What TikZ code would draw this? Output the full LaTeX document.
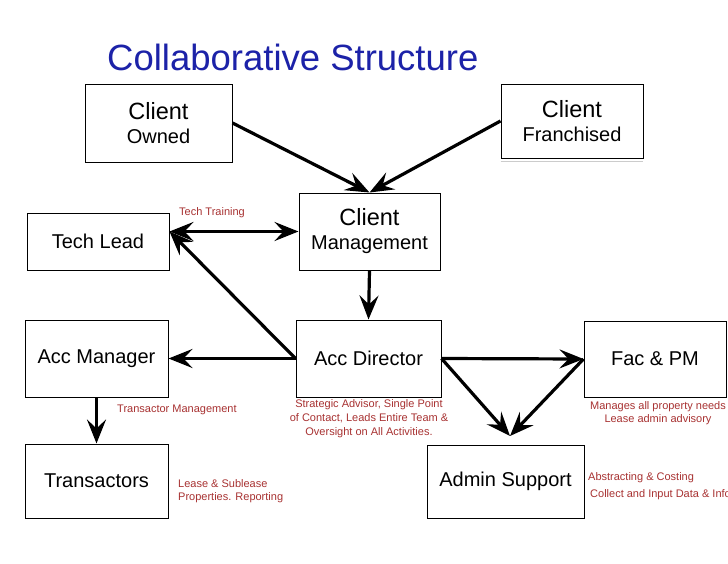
\documentclass[tikz,border=0pt]{standalone}
\usepackage{fontspec}
\setmainfont{Liberation Sans}
\usetikzlibrary{arrows.meta}
\definecolor{ttlblue}{HTML}{1C22A8}
\definecolor{notered}{HTML}{A83232}
\tikzset{
  box/.style={draw,line width=1pt,rectangle,align=center,inner sep=0pt,font=\fontsize{20}{24}\selectfont},
  >={Stealth[length=24pt,width=19pt,inset=9pt]},
  arr/.style={line width=3.2pt,->},
  arrb/.style={line width=3.2pt,<->},
  note/.style={text=notered,inner sep=0pt,font=\fontsize{11}{14}\selectfont}}
\begin{document}
\begin{tikzpicture}[x=1pt,y=-1pt]
\useasboundingbox (0,0) rectangle (728,563);
\fill[white] (0,0) rectangle (728,563);
\node[anchor=west,text=ttlblue,inner sep=0pt,font=\fontsize{36.5}{40}\selectfont] (title) at (107,57) {Collaborative Structure};
\node[box,minimum width=147pt,minimum height=78pt] (co) at (158.5,123) {{\fontsize{23.5}{24}\selectfont Client}\\Owned};
\node[box,minimum width=142pt,minimum height=74pt] (cf) at (572,121) {{\fontsize{23.5}{24}\selectfont Client}\\Franchised};
\draw[gray!40,line width=1pt] (cf.south west) ++(0,3) -- ++(142,0);
\node[box,minimum width=142pt,minimum height=57pt] (tl) at (98,241.5) {Tech Lead};
\node[box,minimum width=141pt,minimum height=77pt] (cm) at (369.5,231.5) {{\fontsize{23.5}{24}\selectfont Client}\\Management};
\node[box,minimum width=143pt,minimum height=77pt] (am) at (96.5,358.5) {Acc Manager};
\node[box,minimum width=145pt,minimum height=77pt] (ad) at (368.5,358.5) {Acc Director};
\node[box,minimum width=142pt,minimum height=76pt] (fp) at (655,359) {Fac \& PM};
\node[box,minimum width=143pt,minimum height=74pt] (tr) at (96.5,481) {Transactors};
\node[box,minimum width=157pt,minimum height=73pt] (as) at (505.5,481.5) {Admin Support};
\coordinate (meet) at (510,436);
\coordinate (tlin) at (tl.east |- cm.west);
% connectors
\draw[arr] (co.east) -- (cm.north);
\draw[arr] (cf.west) -- (cm.north);
\draw[arrb] (tlin) -- (cm.west);
\draw[arr] (ad.west) -- (tlin);
\draw[arr] (cm.south) -- (ad.north);
\draw[arr] (ad.west) -- (am.east);
\draw[arr] (am.south) -- (tr.north);
\draw[arr] (ad.east) -- (fp.west);
\draw[arr] (ad.east) -- (meet);
\draw[arr] (fp.west) -- (meet);
% notes
\node[note,anchor=west] (n1) at (179,213) {Tech Training};
\node[note,anchor=west] (n2) at (117,410) {Transactor Management};
\node[note,align=center] (n3) at (369,419) {Strategic Advisor, Single Point\\of Contact, Leads Entire Team \&\\Oversight on All Activities.};
\node[note,align=center,font=\fontsize{11}{13}\selectfont] (n4) at (658,413.5) {Manages all property needs\\Lease admin advisory};
\node[note,align=left,font=\fontsize{11}{13}\selectfont,anchor=west] (n5) at (178,491) {Lease \& Sublease\\Properties. Reporting};
\node[note,anchor=west] (n6) at (588,478) {Abstracting \& Costing};
\node[note,anchor=west] (n7) at (590,495) {Collect and Input Data \& Info};
\end{tikzpicture}
\end{document}
